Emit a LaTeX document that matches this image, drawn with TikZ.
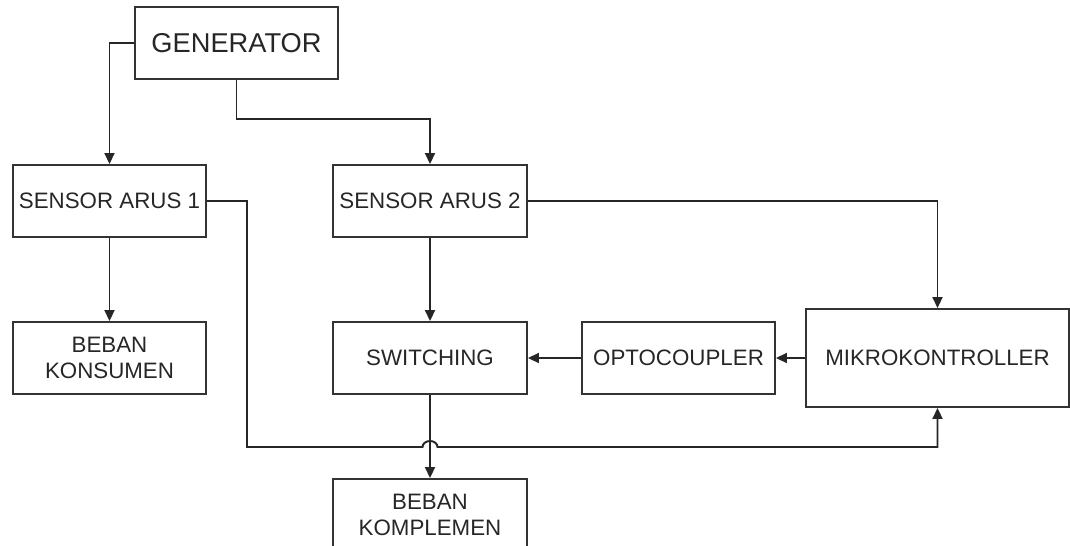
\documentclass[tikz,border=0pt]{standalone}
\usepackage{fontspec}
\setmainfont{Liberation Sans}
\usetikzlibrary{arrows.meta}
\begin{document}
\begin{tikzpicture}[
  blok/.style={draw=black!80,line width=1.1pt,minimum height=1.44cm,align=center,
    text=black!85,font=\fontsize{12.7}{15}\selectfont,inner sep=0pt},
  panah/.style={draw=black!85,line width=1.1pt,-{Triangle[length=2.2mm,width=2mm]}}]
\useasboundingbox (0,0) rectangle (21.40,-10.92);
\node[blok,minimum width=4.06cm,font=\fontsize{15.5}{18}\selectfont] (gen) at (4.73,-0.86) {GENERATOR};
\node[blok,minimum width=3.86cm] (sa1) at (2.19,-4.02) {SENSOR ARUS 1};
\node[blok,minimum width=3.88cm] (sa2) at (8.60,-4.02) {SENSOR ARUS 2};
\node[blok,minimum width=3.86cm] (bk) at (2.19,-7.16) {BEBAN\\KONSUMEN};
\node[blok,minimum width=3.88cm] (sw) at (8.60,-7.16) {SWITCHING};
\node[blok,minimum width=3.86cm] (opto) at (13.57,-7.16) {OPTOCOUPLER};
\node[blok,minimum width=5.26cm,minimum height=1.96cm] (mk) at (18.75,-7.16) {MIKROKONTROLLER};
\node[blok,minimum width=3.88cm] (bkom) at (8.60,-10.30) {BEBAN\\KOMPLEMEN};
% jalur
\coordinate (j1) at (4.73,-2.38);
\coordinate (b1) at (4.94,-4.02);
\coordinate (b2) at (4.94,-8.94);
\coordinate (hop) at (8.45,-8.94);
\draw[panah] (gen.west) -| (sa1.north);
\draw[panah] (gen.south) -- (j1) -| (sa2.north);
\draw[panah] (sa2.east) -| (mk.north);
\draw[panah] (sa1) -- (bk);
\draw[panah] (sa2) -- (sw);
\draw[panah] (sw) -- (bkom);
\draw[panah] (mk) -- (opto);
\draw[panah] (opto) -- (sw);
\draw[panah] (sa1.east) -- (b1) -- (b2) -- (hop)
  arc[start angle=180,end angle=0,x radius=0.15,y radius=0.12] -| (mk.south);
\end{tikzpicture}
\end{document}
